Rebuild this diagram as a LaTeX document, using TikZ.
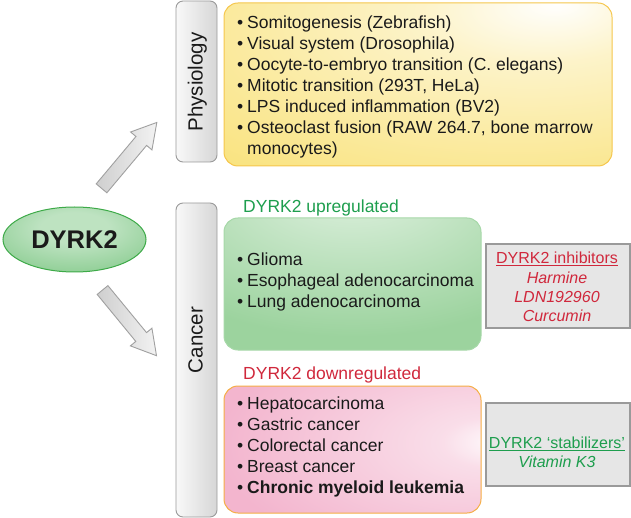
\documentclass[tikz,border=0pt]{standalone}
\usepackage{fontspec}
\setmainfont{Liberation Sans}
\usetikzlibrary{shapes.geometric,shapes.arrows}
\definecolor{txt}{HTML}{1A1A1A}
\definecolor{upgreen}{HTML}{1E9E4E}
\definecolor{downred}{HTML}{D0283C}
\definecolor{yfill}{HTML}{F9E27A}
\definecolor{yborder}{HTML}{F5C64C}
\definecolor{gfill}{HTML}{9CD39E}
\definecolor{gborder}{HTML}{A6D8A8}
\definecolor{pfill}{HTML}{F3B5CE}
\definecolor{pborder}{HTML}{F5AE45}
\definecolor{boxgray}{HTML}{E6E6E6}
\definecolor{boxline}{HTML}{9A9A9A}
\definecolor{ellfill}{HTML}{45AE4F}
\definecolor{ellline}{HTML}{3DAA48}
\definecolor{arrline}{HTML}{A0A0A0}
\colorlet{ylight}{white!60!yfill}
\colorlet{glight}{white!55!gfill}
\colorlet{plight}{white!55!pfill}
\colorlet{elight}{white!65!ellfill}
\colorlet{emid}{white!35!ellfill}
\pgfdeclareradialshading{yglow}{\pgfpoint{18bp}{25bp}}{color(0bp)=(white);color(15bp)=(ylight);color(55bp)=(yfill);color(120bp)=(yfill)}
\pgfdeclareradialshading{gglow}{\pgfpoint{0bp}{40bp}}{color(0bp)=(white);color(10bp)=(glight);color(45bp)=(gfill);color(120bp)=(gfill)}
\pgfdeclareradialshading{pglow}{\pgfpoint{30bp}{3bp}}{color(0bp)=(white);color(10bp)=(plight);color(45bp)=(pfill);color(120bp)=(pfill)}
\pgfdeclareradialshading{eglow}{\pgfpoint{0bp}{10bp}}{color(0bp)=(elight);color(12bp)=(elight);color(38bp)=(emid);color(55bp)=(ellfill);color(120bp)=(ellfill)}
\newcommand\mainsz{\fontsize{17.5}{21}\selectfont}
\newcommand\sidesz{\fontsize{16}{19.3}\selectfont}
\newcommand\bl{\makebox[10pt][l]{•}}
\begin{document}
\begin{tikzpicture}[x=1pt,y=-1pt,
  every node/.style={text=txt},
  catbox/.style={draw=boxline, line width=0.9pt, rounded corners=7pt,
    left color=gray!5, right color=gray!32, minimum width=41pt, inner sep=0pt},
  listbox/.style={rounded corners=14pt, line width=1pt, inner sep=0pt},
  sidebox/.style={draw=boxline, line width=1.3pt, fill=boxgray, inner sep=0pt, minimum width=144pt},
  listtext/.style={anchor=west, align=left, inner sep=0pt, font=\mainsz},
  bigarrow/.style={single arrow, draw=arrline, line width=0.9pt, left color=gray!38, right color=gray!10,
    inner xsep=0pt, inner ysep=6.5pt, single arrow head extend=7pt, single arrow tip angle=60}]
\useasboundingbox (0,0) rectangle (631,518);

% DYRK2
\node[ellipse, minimum width=143pt, minimum height=65pt, inner sep=0pt, draw=ellline, line width=1pt,
  shading=eglow] (dyrk) at (74.5,239.5) {\fontsize{25.5}{30}\selectfont\bfseries DYRK2};

% arrows
\node[bigarrow, minimum height=86pt, rotate=50] (aup) at (125.3,160) {};
\node[bigarrow, minimum height=85pt, rotate=-50.6] (adown) at (125.7,318.2) {};

% category boxes
\node[catbox, minimum height=161pt] (phys) at (196.5,81.5) {};
\node[rotate=90, anchor=base, inner sep=0pt, font=\fontsize{20.5}{24}\selectfont] (physlbl) at (202.5,82) {Physiology};
\node[catbox, minimum height=314pt] (canc) at (196.5,360) {};
\node[rotate=90, anchor=base, inner sep=0pt, font=\fontsize{20.5}{24}\selectfont] (canclbl) at (202.5,340) {Cancer};

% physiology list
\node[listbox, draw=yborder, shading=yglow, minimum width=388pt, minimum height=163pt] (ybox) at (418,84.5) {};
\node[listtext] (ytext) at (237,86.5) {\bl Somitogenesis (Zebrafish)\\
\bl Visual system (Drosophila)\\
\bl Oocyte-to-embryo transition (C. elegans)\\
\bl Mitotic transition (293T, HeLa)\\
\bl LPS induced inflammation (BV2)\\
\bl Osteoclast fusion (RAW 264.7, bone marrow\\
\hspace*{10pt}monocytes)};

% upregulated
\node[anchor=base west, inner sep=0pt, font=\mainsz, text=upgreen] (uplbl) at (243,212.3) {DYRK2 upregulated};
\node[listbox, draw=gborder, shading=gglow, minimum width=257pt, minimum height=132pt] (gbox) at (352.5,284) {};
\node[listtext] (gtext) at (237,282) {\bl Glioma\\
\bl Esophageal adenocarcinoma\\
\bl Lung adenocarcinoma};

% downregulated
\node[anchor=base west, inner sep=0pt, font=\mainsz, text=downred] (downlbl) at (243,379.3) {DYRK2 downregulated};
\node[listbox, draw=pborder, shading=pglow, minimum width=257pt, minimum height=127pt] (pbox) at (352.5,449.5) {};
\node[listtext] (ptext) at (237,447) {\bl Hepatocarcinoma\\
\bl Gastric cancer\\
\bl Colorectal cancer\\
\bl Breast cancer\\
\bl\textbf{Chronic myeloid leukemia}};

% side boxes
\node[sidebox, minimum height=84pt] (inh) at (558,286) {};
\node[align=center, inner sep=0pt, font=\sidesz, text=downred] (inhtext) at (557,287) {\underline{DYRK2 inhibitors}\\
\textit{Harmine}\\
\textit{LDN192960}\\
\textit{Curcumin}};
\node[sidebox, minimum height=83pt] (stab) at (558,444.5) {};
\node[align=center, inner sep=0pt, font=\sidesz, text=upgreen] (stabtext) at (557,452.5) {\underline{DYRK2 ‘stabilizers’}\\
\textit{Vitamin K3}};
\end{tikzpicture}
\end{document}
